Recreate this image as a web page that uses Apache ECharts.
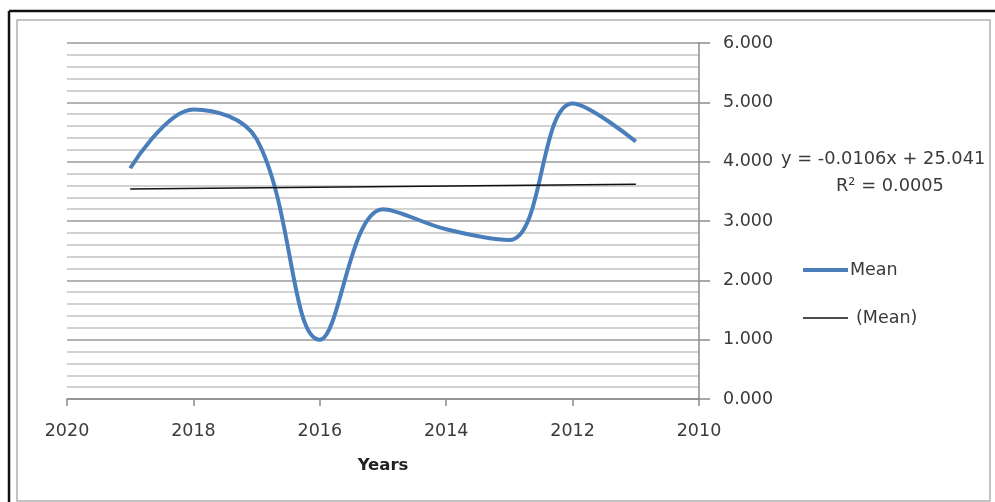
<!DOCTYPE html>
<html>
<head>
<meta charset="utf-8">
<script src="https://cdn.jsdelivr.net/npm/echarts@6/dist/echarts.min.js"></script>
<style>
html,body{margin:0;padding:0;background:#fff;}
#chart{width:995px;height:502px;}
</style>
</head>
<body>
<div id="chart"></div>
<script>
// Data
var years = [2019, 2018, 2017, 2016, 2015, 2014, 2013, 2012, 2011];
var meanValues = [3.89, 4.88, 4.38, 1.0, 3.2, 2.86, 2.68, 4.98, 4.34];
var trendYears = [2019, 2011];
var trendValues = [3.54, 3.62];
var xTicks = [2020, 2018, 2016, 2014, 2012, 2010];
var yTicks = [0, 1, 2, 3, 4, 5, 6];
var equationLine1 = 'y = -0.0106x + 25.041';
var equationLine2 = 'R² = 0.0005';

var FONT = 'DejaVu Sans';
var TXT = '#3a3a3a';

var chart = echarts.init(document.getElementById('chart'), null, {renderer: 'canvas'});

var meanData = years.map(function (y, i) { return [y, meanValues[i]]; });
var trendData = trendYears.map(function (y, i) { return [y, trendValues[i]]; });

chart.setOption({
  animation: false,
  backgroundColor: '#ffffff',
  grid: {left: 67, right: 296, top: 43, bottom: 103, containLabel: false},
  xAxis: {
    type: 'value',
    min: xTicks[xTicks.length - 1],
    max: xTicks[0],
    interval: 2,
    inverse: true,
    name: 'Years',
    nameLocation: 'middle',
    nameGap: 58,
    nameTextStyle: {fontFamily: FONT, fontSize: 16.5, fontWeight: 'bold', color: '#222'},
    axisLine: {show: true, onZero: false, lineStyle: {color: '#8c8c8c', width: 1.5}},
    axisTick: {show: true, inside: false, length: 7, lineStyle: {color: '#8c8c8c', width: 1.5}},
    axisLabel: {margin: 23, fontFamily: FONT, fontSize: 17.5, color: TXT,
      formatter: function (v) { return String(v); }},
    splitLine: {show: false}
  },
  yAxis: {
    type: 'value',
    position: 'right',
    min: yTicks[0],
    max: yTicks[yTicks.length - 1],
    interval: 1,
    axisLine: {show: true, onZero: false, lineStyle: {color: '#8c8c8c', width: 1.5}},
    axisTick: {show: true, inside: false, length: 11, lineStyle: {color: '#8c8c8c', width: 1.5}},
    axisLabel: {margin: 24, align: 'left', fontFamily: FONT, fontSize: 17.5, color: TXT,
      formatter: function (v) { return v.toFixed(3); }},
    splitLine: {show: true, lineStyle: {color: '#9a9a9a', width: 1.5}},
    minorTick: {show: false, splitNumber: 5},
    minorSplitLine: {show: true, lineStyle: {color: '#c4c4c4', width: 1.5}}
  },
  legend: [
    {
      data: ['Mean'], left: 798, top: 256, orient: 'vertical',
      icon: 'rect', itemWidth: 45, itemHeight: 4, itemGap: 0,
      textStyle: {fontFamily: FONT, fontSize: 17.5, color: TXT, padding: [0, 0, 0, -3]}
    },
    {
      data: ['(Mean)'], left: 798, top: 304, orient: 'vertical',
      icon: 'rect', itemWidth: 45, itemHeight: 1.5, itemGap: 0,
      textStyle: {fontFamily: FONT, fontSize: 17.5, color: TXT, padding: [0, 0, 0, 3]}
    }
  ],
  series: [
    {
      name: 'Mean',
      type: 'line',
      data: meanData,
      smooth: 0.38,
      showSymbol: false,
      symbol: 'none',
      lineStyle: {color: '#4a7ebb', width: 4},
      itemStyle: {color: '#4a7ebb'},
      z: 3
    },
    {
      name: '(Mean)',
      type: 'line',
      data: trendData,
      showSymbol: false,
      symbol: 'none',
      lineStyle: {color: '#111', width: 1.5},
      itemStyle: {color: '#111'},
      z: 4
    }
  ],
  graphic: [
    {type: 'rect', silent: true, shape: {x: 17, y: 20, width: 973, height: 481},
      style: {fill: 'none', stroke: '#b0b0b0', lineWidth: 1.5}},
    {type: 'line', silent: true, shape: {x1: 9, y1: 11, x2: 995, y2: 11},
      style: {stroke: '#111', lineWidth: 2.5}},
    {type: 'line', silent: true, shape: {x1: 9, y1: 11, x2: 9, y2: 502},
      style: {stroke: '#111', lineWidth: 2.5}},
    {type: 'text', silent: true, left: 781, top: 150,
      style: {text: equationLine1, fontFamily: FONT, fontSize: 17.8, fill: TXT}},
    {type: 'text', silent: true, left: 836, top: 177,
      style: {text: equationLine2, fontFamily: FONT, fontSize: 17.8, fill: TXT}}
  ]
});
</script>
</body>
</html>
